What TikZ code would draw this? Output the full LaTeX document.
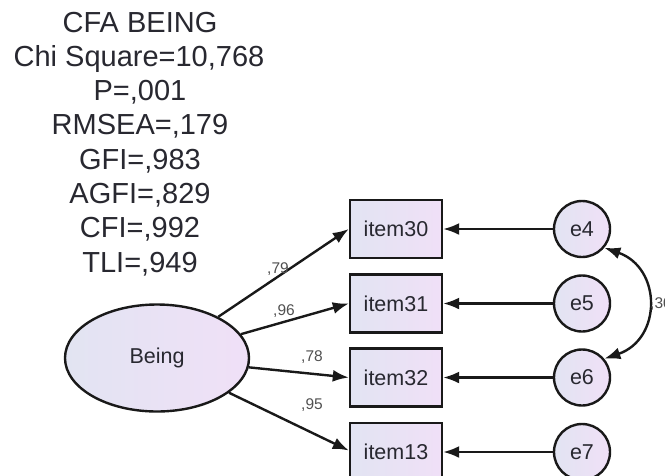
\documentclass[tikz,border=0pt]{standalone}
\usepackage{fontspec}
\setmainfont{Liberation Sans}
\usetikzlibrary{shapes.geometric,arrows.meta}
\definecolor{lineC}{RGB}{25,25,25}
\definecolor{txtC}{RGB}{40,40,48}
\definecolor{fillL}{RGB}{226,228,242}
\definecolor{fillR}{RGB}{240,224,247}
\definecolor{lblC}{RGB}{80,80,80}
\tikzset{
  obs/.style={draw=lineC, line width=2.4pt, rectangle, minimum width=92pt, minimum height=58pt, inner sep=0pt,
    left color=fillL, right color=fillR, text=txtC, font=\fontsize{21.5}{21.5}\selectfont},
  err/.style={draw=lineC, line width=2.4pt, circle, minimum size=56pt, inner sep=0pt,
    left color=fillL, right color=fillR, text=txtC, font=\fontsize{21.5}{21.5}\selectfont},
  lat/.style={draw=lineC, line width=2.4pt, ellipse, minimum width=184pt, minimum height=107pt, inner sep=0pt,
    left color=fillL, right color=fillR, text=txtC, font=\fontsize{21.5}{21.5}\selectfont},
  conn/.style={draw=lineC, line width=2.4pt, -{Latex[length=16pt,width=12pt]}},
  lbl/.style={text=lblC, font=\fontsize{15.5}{15.5}\selectfont, inner sep=0pt},
  ttl/.style={anchor=base, text=txtC, inner sep=0pt, font=\fontsize{29}{29}\selectfont}
}
\begin{document}
\begin{tikzpicture}[x=1pt,y=-1pt]
\clip (0,0) rectangle (665,475);
\fill[white] (0,0) rectangle (665,475);
% title block
\node[ttl] (t1) at (140,32) {CFA BEING};
\node[ttl] (t2) at (139,66.3) {Chi Square=10,768};
\node[ttl] (t3) at (140,100.6) {P=,001};
\node[ttl] (t4) at (140,134.9) {RMSEA=,179};
\node[ttl] (t5) at (140,169.2) {GFI=,983};
\node[ttl] (t6) at (140,203.5) {AGFI=,829};
\node[ttl] (t7) at (140,237.8) {CFI=,992};
\node[ttl] (t8) at (140,272.1) {TLI=,949};
% nodes
\node[lat] (being) at (157,358) {Being};
\node[obs] (i30) at (396,229) {item30};
\node[obs] (i31) at (396,303.5) {item31};
\node[obs] (i32) at (396,377.5) {item32};
\node[obs] (i13) at (396,452) {item13};
\node[err] (e4) at (582,229) {e4};
\node[err] (e5) at (582,303.5) {e5};
\node[err] (e6) at (582,377.5) {e6};
\node[err] (e7) at (582,452) {e7};
% loadings
\draw[conn] (being) -- (i30.west);
\draw[conn] (being) -- (i31.west);
\draw[conn] (being) -- (i32.west);
\draw[conn] (being) -- ([yshift=1.5pt]i13.west);
\node[lbl] (l1) at (278,269) {,79};
\node[lbl] (l2) at (284,311) {,96};
\node[lbl] (l3) at (312,357) {,78};
\node[lbl] (l4) at (312,405) {,95};
% errors
\draw[conn] (e4) -- (i30);
\draw[conn] (e5) -- (i31);
\draw[conn] (e6) -- (i32);
\draw[conn] (e7) -- (i13);
% covariance
\draw[draw=lineC, line width=2.4pt, {Latex[length=16pt,width=12pt]}-{Latex[length=16pt,width=12pt]}]
  (e4.-40) .. controls (662,268) and (662,339) .. (e6.40);
\node[lbl, anchor=west] (cov) at (650,304) {,30};
\end{tikzpicture}
\end{document}
